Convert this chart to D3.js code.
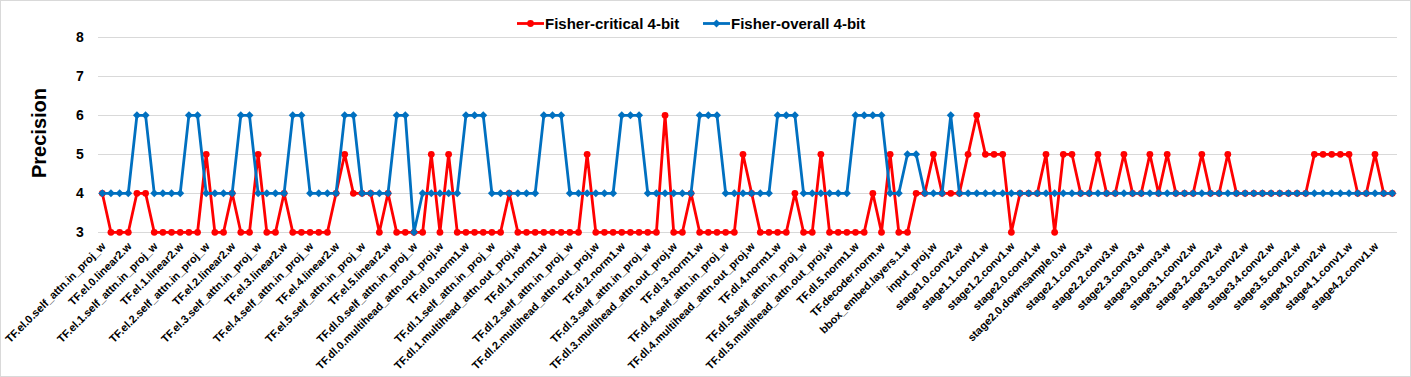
<!DOCTYPE html>
<html>
<head>
<meta charset="utf-8">
<script src="https://cdn.jsdelivr.net/npm/d3@7"></script>
<style>
  html, body { margin: 0; padding: 0; background: #fff; }
  svg { display: block; font-family: "Liberation Sans", Arial, sans-serif; }
</style>
</head>
<body>
<div id="chart"></div>
<script>
// parameter names, built from the layer layout of the model
const encoderLayers = ["0", "1", "2", "3", "4", "5"];
const encoderParams = ["self_attn.in_proj_w", "self_attn.out_proj.w", "linear1.w", "linear2.w", "norm1.w", "norm2.w"];
const decoderLayers = ["0", "1", "2", "3", "4", "5"];
const decoderParams = ["self_attn.in_proj_w", "self_attn.out_proj.w", "multihead_attn.in_proj_w",
  "multihead_attn.out_proj.w", "linear1.w", "linear2.w", "norm1.w", "norm2.w", "norm3.w"];
const headParams = ["TF.decoder.norm.w", "class_embed.w", "bbox_embed.layers.0.w", "bbox_embed.layers.1.w",
  "bbox_embed.layers.2.w", "query_embed.w", "input_proj.w", "conv1.w"];
const backboneBlocks = [
  ["stage1.0", true], ["stage1.1", false], ["stage1.2", false],
  ["stage2.0", true], ["stage2.1", false], ["stage2.2", false], ["stage2.3", false],
  ["stage3.0", true], ["stage3.1", false], ["stage3.2", false], ["stage3.3", false], ["stage3.4", false], ["stage3.5", false],
  ["stage4.0", true], ["stage4.1", false], ["stage4.2", false]
];

const categories = [];
encoderLayers.forEach(l => encoderParams.forEach(p => categories.push(`TF.el.${l}.${p}`)));
decoderLayers.forEach(l => decoderParams.forEach(p => categories.push(`TF.dl.${l}.${p}`)));
headParams.forEach(p => categories.push(p));
backboneBlocks.forEach(([b, ds]) => {
  ["conv1.w", "conv2.w", "conv3.w"].forEach(c => categories.push(`${b}.${c}`));
  if (ds) categories.push(`${b}.downsample.0.w`);
});

const criticalBits = [
  4,3,3,3,4,4,  3,3,3,3,3,3,  5,3,3,4,3,3,  5,3,3,4,3,3,  3,3,3,4,5,4,  4,4,3,4,3,3,
  3,3,5,3,5,3,3,3,3,  3,3,4,3,3,3,3,3,3,  3,3,5,3,3,3,3,3,3,
  3,3,6,3,3,4,3,3,3,  3,3,5,4,3,3,3,3,4,  3,3,5,3,3,3,3,3,4,
  3,5,3,3,4,4,5,4,
  4,4,5,6,5,5,5,3,4,4,4,
  5,3,5,5,4,4,5,4,4,5,4,4,
  5,4,5,4,4,4,5,4,4,5,4,4,4,4,4,4,4,4,4,
  5,5,5,5,5,4,4,5,4,4
];

const overallBits = [
  4,4,4,4,6,6,  4,4,4,4,6,6,  4,4,4,4,6,6,  4,4,4,4,6,6,  4,4,4,4,6,6,  4,4,4,4,6,6,
  3,4,4,4,4,4,6,6,6,  4,4,4,4,4,4,6,6,6,  4,4,4,4,4,4,6,6,6,
  4,4,4,4,4,4,6,6,6,  4,4,4,4,4,4,6,6,6,  4,4,4,4,4,4,6,6,6,
  6,4,4,5,5,4,4,4,
  6,4,4,4,4,4,4,4,4,4,4,
  4,4,4,4,4,4,4,4,4,4,4,4,
  4,4,4,4,4,4,4,4,4,4,4,4,4,4,4,4,4,4,4,
  4,4,4,4,4,4,4,4,4,4
];

const seriesNames = ["Fisher-critical 4-bit", "Fisher-overall 4-bit"];
const yTicks = [3, 4, 5, 6, 7, 8];

const width = 1411, height = 377;
const red = "#FF0000", blue = "#0070C0", grid = "#D9D9D9";

const svg = d3.select("#chart").append("svg")
  .attr("width", width)
  .attr("height", height);

svg.append("rect")
  .attr("x", 0.5).attr("y", 0.5)
  .attr("width", width - 1).attr("height", height - 1)
  .attr("fill", "#fff").attr("stroke", grid);

const x = d3.scalePoint().domain(categories).range([102.3, 1392.3]);
const y = d3.scaleLinear().domain([3, 8]).range([232.3, 37.3]);

// gridlines
svg.append("g")
  .selectAll("line")
  .data(yTicks)
  .join("line")
  .attr("x1", 98).attr("x2", 1397)
  .attr("y1", d => Math.round(y(d)) + 0.5)
  .attr("y2", d => Math.round(y(d)) + 0.5)
  .attr("stroke", grid);

// y tick labels
svg.append("g")
  .selectAll("text")
  .data(yTicks)
  .join("text")
  .attr("x", 80)
  .attr("y", d => y(d))
  .attr("dy", "0.36em")
  .attr("text-anchor", "middle")
  .style("font-size", "14px")
  .style("font-weight", "bold")
  .text(d => d);

svg.append("text")
  .attr("transform", "translate(46,133) rotate(-90)")
  .attr("text-anchor", "middle")
  .style("font-size", "20px")
  .style("font-weight", "bold")
  .text("Precision");

// x labels, every third category
svg.append("g")
  .selectAll("text")
  .data(categories.filter((d, i) => i % 3 === 0))
  .join("text")
  .attr("transform", d => `translate(${x(d) + 4},${247}) rotate(-45)`)
  .attr("text-anchor", "end")
  .style("font-size", "11px")
  .style("font-weight", "bold")
  .text(d => d);

const line = d3.line()
  .x(d => x(d.cat))
  .y(d => y(d.v));

const diamond = "M0,-4L4,0L0,4L-4,0Z";

function drawSeries(values, color, marker) {
  const pts = values.map((v, i) => ({cat: categories[i], v}));
  const g = svg.append("g");
  g.append("path")
    .datum(pts)
    .attr("fill", "none")
    .attr("stroke", color)
    .attr("stroke-width", 2.8)
    .attr("stroke-linejoin", "round")
    .attr("d", line);
  if (marker === "circle") {
    g.selectAll("circle").data(pts).join("circle")
      .attr("cx", d => x(d.cat)).attr("cy", d => y(d.v))
      .attr("r", 3.4).attr("fill", color);
  } else {
    g.selectAll("path.m").data(pts).join("path")
      .attr("class", "m")
      .attr("transform", d => `translate(${x(d.cat)},${y(d.v)})`)
      .attr("d", diamond).attr("fill", color);
  }
}

drawSeries(criticalBits, red, "circle");
drawSeries(overallBits, blue, "diamond");

// legend
const legend = [
  {name: seriesNames[0], color: red, marker: "circle", x0: 517},
  {name: seriesNames[1], color: blue, marker: "diamond", x0: 703}
];
const lg = svg.append("g").selectAll("g").data(legend).join("g")
  .attr("transform", d => `translate(${d.x0},23.5)`);
lg.append("line")
  .attr("x1", 0).attr("x2", 27)
  .attr("stroke", d => d.color).attr("stroke-width", 2.8);
lg.filter(d => d.marker === "circle").append("circle")
  .attr("cx", 13.5).attr("r", 3.4).attr("fill", d => d.color);
lg.filter(d => d.marker === "diamond").append("path")
  .attr("transform", "translate(13.5,0)").attr("d", diamond).attr("fill", d => d.color);
lg.append("text")
  .attr("x", 28).attr("y", 5)
  .style("font-size", "15px")
  .style("font-weight", "bold")
  .text(d => d.name);
</script>
</body>
</html>
